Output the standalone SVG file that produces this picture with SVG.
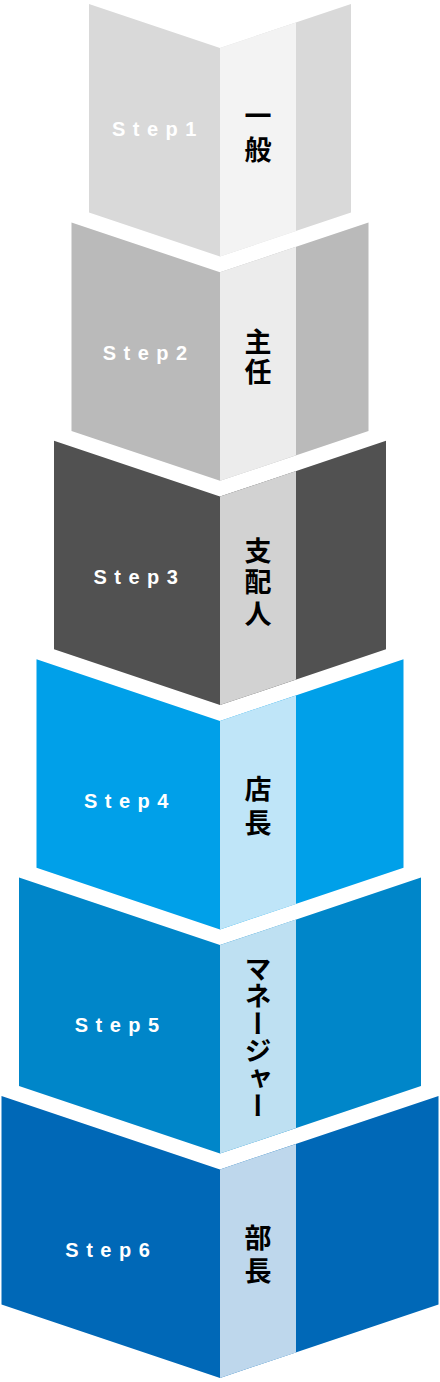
<svg xmlns="http://www.w3.org/2000/svg" width="440" height="1382" viewBox="0 0 440 1382">
<style>
.step{font-family:"Liberation Sans",Arial,sans-serif;font-weight:bold;font-size:20px;letter-spacing:7.5px;fill:#ffffff}
.jpv{font-family:"Noto Sans CJK JP","Noto Sans CJK SC",sans-serif;font-weight:bold;font-size:27px;fill:#000000;writing-mode:vertical-rl}
</style>
<rect width="440" height="1382" fill="#ffffff"/>
<g id="step1">
<polygon points="89,4 220,48 351,4 351,212.5 220,256.5 89,212.5" fill="#d9d9d9"/>
<polygon points="220,48 296,22.5 296,231 220,256.5" fill="#f3f3f3"/>
<text class="step" x="112" y="136">Step1</text>
<text class="jpv" x="258" y="102" style="letter-spacing:7px">一般</text>
</g>
<g id="step2">
<polygon points="71.5,222.4 220,272.3 368.5,222.4 368.5,430.9 220,480.8 71.5,430.9" fill="#bababa"/>
<polygon points="220,272.3 296,246.8 296,455.3 220,480.8" fill="#ececec"/>
<text class="step" x="102.7" y="360.1">Step2</text>
<text class="jpv" x="258" y="327.8" style="letter-spacing:3.7px">主任</text>
</g>
<g id="step3">
<polygon points="54,440.8 220,496.6 386,440.8 386,649.3 220,705.1 54,649.3" fill="#515151"/>
<polygon points="220,496.6 296,471.1 296,679.6 220,705.1" fill="#d2d2d2"/>
<text class="step" x="93.4" y="584.2">Step3</text>
<text class="jpv" x="258" y="537" style="letter-spacing:4.6px">支配人</text>
</g>
<g id="step4">
<polygon points="36.5,659.2 220,720.9 403.5,659.2 403.5,867.7 220,929.4 36.5,867.7" fill="#00a0e9"/>
<polygon points="220,720.9 296,695.4 296,903.9 220,929.4" fill="#bfe5f8"/>
<text class="step" x="84" y="808.3">Step4</text>
<text class="jpv" x="258" y="775.3" style="letter-spacing:7.2px">店長</text>
</g>
<g id="step5">
<polygon points="19,877.6 220,945.1 421,877.6 421,1086.1 220,1153.6 19,1086.1" fill="#0086c9"/>
<polygon points="220,945.1 296,919.6 296,1128.1 220,1153.6" fill="#bee0f2"/>
<text class="step" x="74.7" y="1032.4">Step5</text>
<text class="jpv" x="258" y="955.3" style="letter-spacing:0.4px">マネージャー</text>
</g>
<g id="step6">
<polygon points="1.5,1096 220,1169.4 438.5,1096 438.5,1304.5 220,1377.9 1.5,1304.5" fill="#0068b7"/>
<polygon points="220,1169.4 296,1143.9 296,1352.4 220,1377.9" fill="#bed7ec"/>
<text class="step" x="65.3" y="1256.5">Step6</text>
<text class="jpv" x="258" y="1224.5" style="letter-spacing:6px">部長</text>
</g>
<g id="connectors"/>
</svg>
